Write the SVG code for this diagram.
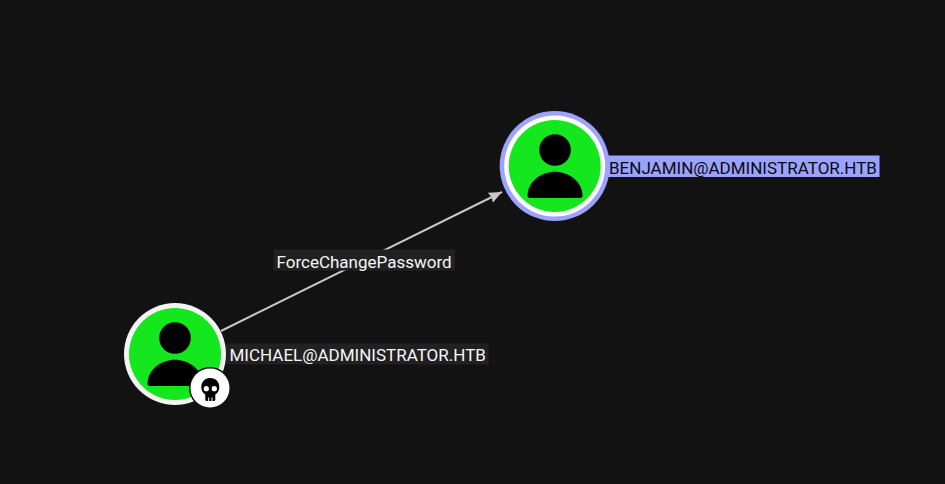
<svg xmlns="http://www.w3.org/2000/svg" width="945" height="484" viewBox="0 0 945 484">
<style>
.lbl{font-family:Roboto,"Liberation Sans",sans-serif;font-size:17px}
.light{fill:#f7f7f7}
.fill{fill:#15e71f}
</style>
<defs>
<marker id="arrow" markerUnits="userSpaceOnUse" markerWidth="14" markerHeight="12" refX="13" refY="6" orient="auto">
<path d="M0 0.500L13 6L0 11.500L1.500 6Z" fill="#c8c8c8"/>
</marker>
<g id="person">
<circle cx="0" cy="-16" r="15.800" fill="#000"/>
<path d="M-27.500 30Q-27.500 32 -25 32H25Q27.500 32 27.500 30C27.500 15 13 5.700 0 5.700C-13 5.700 -27.500 15 -27.500 30Z" fill="#000"/>
</g>
</defs>
<rect width="945" height="484" fill="#121212"/>
<g id="connectors">
<line x1="221" y1="331" x2="502" y2="192" stroke="#c8c8c8" stroke-width="2" marker-end="url(#arrow)"/>
<g id="edge-label">
<rect x="273.500" y="249.500" width="181.500" height="21" fill="#212121"/>
<text class="lbl light" x="276.500" y="267.500">ForceChangePassword</text>
</g>
</g>
<g id="benjamin">
<rect x="600" y="155.500" width="279.500" height="21.500" fill="#9ba2ff"/>
<circle cx="554.700" cy="166" r="55" fill="#9ba2ff"/>
<circle cx="554.700" cy="166" r="50.500" fill="#fff"/>
<circle cx="554.700" cy="166" r="46" class="fill"/>
<use href="#person" x="555" y="166"/>
<text class="lbl" x="609" y="174" fill="#0a0a0a">BENJAMIN@ADMINISTRATOR.HTB</text>
</g>
<g id="michael">
<rect x="226" y="343.500" width="262.500" height="21" fill="#212121"/>
<circle cx="175" cy="354" r="51" fill="#f4f4f4"/>
<circle cx="175" cy="354" r="46" class="fill"/>
<use href="#person" x="175" y="354"/>
<circle cx="210" cy="388" r="21" fill="#121212"/>
<circle cx="210" cy="388" r="19.500" fill="#fff"/>
<path d="M210.300 378C204.500 378 201.300 382 201.300 387C201.300 390.500 202.800 393 205.300 394.500V399.500Q205.300 401 206.800 401H213.800Q215.300 401 215.300 399.500V394.500C217.800 393 219.300 390.500 219.300 387C219.300 382 216.100 378 210.300 378Z" fill="#000"/>
<circle cx="206.300" cy="388.700" r="2.600" fill="#fff"/>
<circle cx="214.300" cy="388.700" r="2.600" fill="#fff"/>
<path d="M208.700 397.500V401M212 397.500V401" stroke="#fff" stroke-width="1"/>
<text class="lbl light" x="229.500" y="360.500">MICHAEL@ADMINISTRATOR.HTB</text>
</g>
</svg>
